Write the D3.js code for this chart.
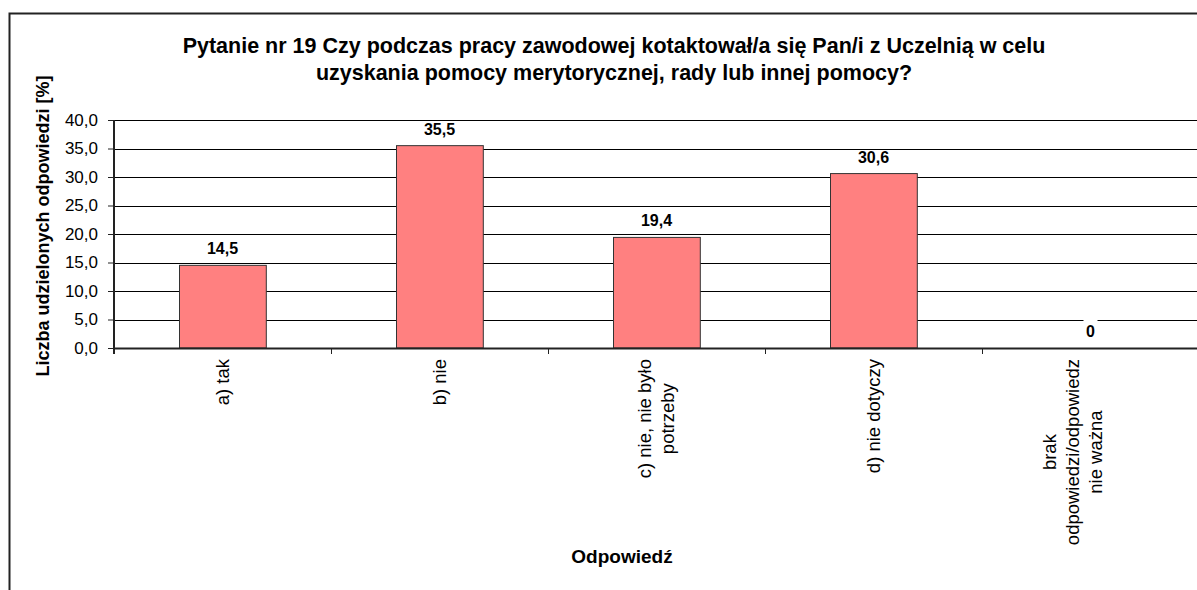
<!DOCTYPE html>
<meta charset="utf-8">
<script src="https://d3js.org/d3.v7.min.js"></script>
<style>
  body { margin: 0; background: #fff; }
  text { font-family: "Liberation Sans", Arial, sans-serif; }
</style>
<div id="chart"></div>
<script>

// data
var categories = ["a) tak", "b) nie", "c) nie, nie było potrzeby", "d) nie dotyczy", "brak odpowiedzi/odpowiedz nie ważna"];
var catLines = [["a) tak"], ["b) nie"], ["c) nie, nie było", "potrzeby"], ["d) nie dotyczy"], ["brak", "odpowiedzi/odpowiedz", "nie ważna"]];
var values = [14.5, 35.5, 19.4, 30.6, 0];
var valueLabels = ["14,5", "35,5", "19,4", "30,6", "0"];
var yTicks = [0, 5, 10, 15, 20, 25, 30, 35, 40];
var titleLines = ["Pytanie nr 19 Czy podczas pracy zawodowej kotaktował/a się Pan/i z Uczelnią w celu",
                  "uzyskania pomocy merytorycznej, rady lub innej pomocy?"];

var W = 1197, H = 590;
var margin = {top: 120, left: 114},
    width = 1085,
    height = 228;

var svg = d3.select("#chart").append("svg")
    .attr("width", W)
    .attr("height", H);

// outer chart border
svg.append("rect")
    .attr("x", 9.5).attr("y", 13.5)
    .attr("width", 1200).attr("height", 600)
    .attr("fill", "none")
    .attr("stroke", "#222")
    .attr("stroke-width", 2);

// title
svg.append("text")
    .attr("x", 614).attr("y", 53)
    .attr("text-anchor", "middle")
    .style("font-size", "21.5px")
    .style("font-weight", "bold")
    .selectAll("tspan")
    .data(titleLines)
    .enter().append("tspan")
      .attr("x", 614)
      .attr("dy", function(d, i) { return i == 0 ? 0 : 27; })
      .text(function(d) { return d; });

var g = svg.append("g")
    .attr("transform", "translate(" + margin.left + "," + margin.top + ")");

var x = d3.scaleBand()
    .domain(categories)
    .range([0, width])
    .paddingInner(0.6)
    .paddingOuter(0.3);

var y = d3.scaleLinear()
    .domain([0, 40])
    .range([height, 0]);

// gridlines
g.selectAll(".grid")
  .data(yTicks.slice(1))
  .enter().append("line")
    .attr("x1", 0).attr("x2", width)
    .attr("y1", function(d) { return Math.round(y(d)) + 0.5; })
    .attr("y2", function(d) { return Math.round(y(d)) + 0.5; })
    .attr("stroke", "#000")
    .attr("stroke-width", 1);

// bars
g.selectAll(".bar")
  .data(values)
  .enter().append("rect")
    .attr("x", function(d, i) { return Math.round(x(categories[i])) + 0.5; })
    .attr("y", function(d) { return y(d); })
    .attr("width", x.bandwidth())
    .attr("height", function(d) { return height - y(d); })
    .attr("fill", "#FF8080")
    .attr("stroke", "#333")
    .attr("stroke-width", 1)
    .style("display", function(d) { return d > 0 ? null : "none"; });

// value labels (white box behind the zero one, it cuts the gridline)
var lab = g.selectAll(".vlab")
  .data(values)
  .enter().append("g")
    .attr("transform", function(d, i) {
      return "translate(" + (x(categories[i]) + x.bandwidth() / 2) + "," + (y(d) - 11) + ")";
    });
lab.append("rect")
    .attr("x", -7).attr("y", -20)
    .attr("width", 14).attr("height", 20)
    .attr("fill", "#fff")
    .style("display", function(d) { return d > 0 ? "none" : null; });
lab.append("text")
    .attr("text-anchor", "middle")
    .style("font-size", "16px")
    .style("font-weight", "bold")
    .text(function(d, i) { return valueLabels[i]; });

// y axis
var yAxis = g.append("g")
    .call(d3.axisLeft(y)
      .tickValues(yTicks)
      .tickSize(6)
      .tickPadding(10)
      .tickFormat(function(d) { return d3.format(".1f")(d).replace(".", ","); }));
yAxis.select(".domain").attr("stroke", "#222").attr("stroke-width", 2).attr("d", "M0,0V" + (height + 6));
yAxis.selectAll(".tick line").attr("stroke", "#222");
yAxis.selectAll("text")
    .style("font-family", "'Liberation Sans', Arial, sans-serif")
    .style("font-size", "17px")
    .attr("fill", "#000");

// x axis with ticks between categories
var step = width / categories.length;
var xa = g.append("g").attr("transform", "translate(0," + height + ")");
xa.append("line")
    .attr("x1", 0).attr("x2", width)
    .attr("y1", 0.5).attr("y2", 0.5)
    .attr("stroke", "#222").attr("stroke-width", 2);
xa.selectAll(".xt")
  .data(d3.range(1, categories.length))
  .enter().append("line")
    .attr("x1", function(d) { return Math.round(d * step) + 0.5; })
    .attr("x2", function(d) { return Math.round(d * step) + 0.5; })
    .attr("y1", 0).attr("y2", 6)
    .attr("stroke", "#222");

// category labels, rotated, lines centred on each other
var lineH = 23, rightLimit = 1104 - margin.left;
xa.selectAll(".xl")
  .data(catLines)
  .enter().append("text")
    .attr("transform", function(d, i) {
      var cx = x(categories[i]) + x.bandwidth() / 2;
      var half = (d.length - 1) * lineH / 2 + 8;
      if (cx + half > rightLimit) cx = rightLimit - half;
      return "translate(" + (cx - (d.length - 1) * lineH / 2) + ",0) rotate(-90)";
    })
    .style("font-size", "18.5px")
    .each(function(d) {
      var t = d3.select(this);
      d.forEach(function(s, j) {
        t.append("tspan")
          .attr("x", 0)
          .attr("y", j * lineH + 6)
          .attr("text-anchor", "middle")
          .text(s);
      });
      // the longest line ends just under the axis
      var widths = [];
      t.selectAll("tspan").each(function() { widths.push(this.getComputedTextLength()); });
      var wmax = d3.max(widths);
      t.selectAll("tspan").attr("x", -11 - wmax / 2);
    });

// axis titles
svg.append("text")
    .attr("transform", "translate(49,226) rotate(-90)")
    .attr("text-anchor", "middle")
    .style("font-size", "18px")
    .style("font-weight", "bold")
    .text("Liczba udzielonych odpowiedzi [%]");

svg.append("text")
    .attr("x", 622).attr("y", 563)
    .attr("text-anchor", "middle")
    .style("font-size", "19px")
    .style("font-weight", "bold")
    .text("Odpowiedź");

</script>
